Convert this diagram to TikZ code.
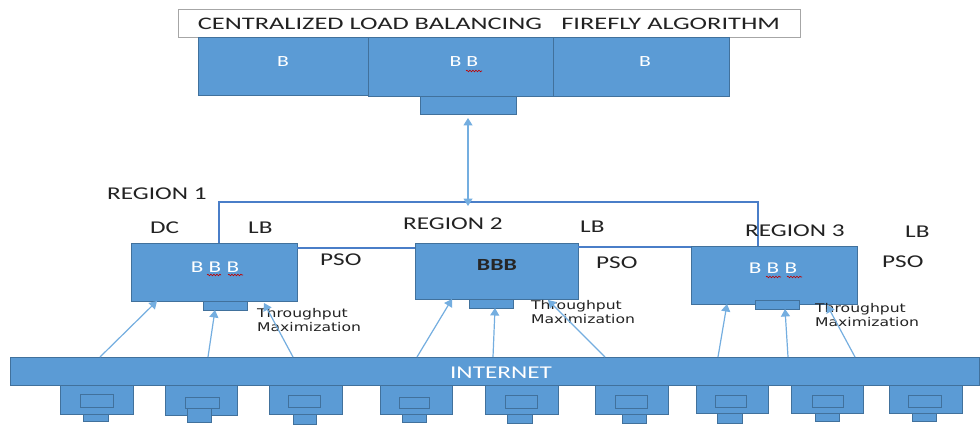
\documentclass[tikz,border=0pt]{standalone}
\usepackage{fontspec}
\setmainfont{Carlito}
\newfontfamily\lblfont[FakeStretch=1.4]{Carlito}
\newfontfamily\ttlfont[FakeStretch=1.5]{Carlito}
\newfontfamily\smfont[FakeStretch=1.3]{DejaVu Sans}
\usetikzlibrary{arrows.meta,decorations.pathmorphing,calc}
\definecolor{bfill}{HTML}{5B9BD5}
\definecolor{bline}{HTML}{41719C}
\definecolor{conn}{HTML}{4A7EC8}
\definecolor{arr}{HTML}{74AEE0}
\definecolor{txt}{HTML}{222222}
\tikzset{
 blk/.style={draw=bline, fill=bfill, line width=1pt, inner sep=0pt, outer sep=0pt},
 inr/.style={draw=bline, line width=0.8pt, inner sep=0pt, outer sep=0pt},
 lbl/.style={font=\lblfont\fontsize{18}{18}\selectfont, text=txt, inner sep=0pt, anchor=west},
 small/.style={font=\smfont\fontsize{12}{14}\selectfont, text=txt, inner sep=0pt, anchor=north west, align=left},
 wtxt/.style={font=\lblfont\fontsize{16.5}{16.5}\selectfont, text=white, inner sep=0pt},
 upar/.style={draw=arr, line width=1.2pt, -{Triangle[width=9pt,length=7.5pt]}},
 link/.style={draw=conn, line width=1.6pt},
 squig/.style={draw=red!75!black, line width=0.6pt, decorate, decoration={snake, amplitude=0.8pt, segment length=3pt}},
}
\newcommand{\bx}[6]{\node[#6, minimum width={(#4-#2)*1pt}, minimum height={(#5-#3)*1pt}] (#1) at ({(#2+#4)/2},{(#3+#5)/2}) {};}
\begin{document}
\begin{tikzpicture}[x=1pt,y=-1pt]
\useasboundingbox[fill=white] (0,0) rectangle (980,425);
% title
\node[draw=gray!70, line width=1pt, fill=white, minimum width=622pt, minimum height=28pt, inner sep=0pt,
  font=\ttlfont\fontsize{17.6}{17.6}\selectfont, text=txt] (title) at (489,24)
  {CENTRALIZED LOAD BALANCING\hspace{1.1em}FIREFLY ALGORITHM};
% central boxes
\bx{cl}{198}{38}{368}{96}{blk}
\bx{cm}{368}{38}{553}{97}{blk}
\bx{cr}{553}{38}{729}{97}{blk}
\bx{cs}{420}{97}{516}{115}{blk}
\node[wtxt, font=\lblfont\fontsize{15.5}{15.5}\selectfont] (clt) at (283,62) {B};
\node[wtxt, font=\lblfont\fontsize{15.5}{15.5}\selectfont] (cmt) at (464,62) {B B};
\node[wtxt, font=\lblfont\fontsize{15.5}{15.5}\selectfont] (crt) at (645,62) {B};
\draw[squig] (466,71) -- (482,71);
% regions
\bx{r1}{131}{243}{297}{301}{blk}
\bx{r1s}{203}{301}{247}{310}{blk}
\bx{r2}{415}{243}{578}{299}{blk}
\bx{r2s}{469}{299}{513}{308}{blk}
\bx{r3}{691}{246}{857}{304}{blk}
\bx{r3s}{755}{300}{799}{309}{blk}
\node[wtxt] (r1t) at (215,267) {B B B};
\node[inner sep=0pt, font=\lblfont\fontsize{17}{17}\selectfont\bfseries, text=black!85] (r2t) at (497,265) {BBB};
\node[wtxt] (r3t) at (773,268) {B B B};
\draw[squig] (207,275) -- (221,275);
\draw[squig] (228,275) -- (243,275);
\draw[squig] (766,277) -- (781,277);
\draw[squig] (787,277) -- (802,277);
% links
\coordinate (hub) at (cs.south |- 0,202);
\coordinate (t1) at (219,202);
\coordinate (t3) at (758,202);
\draw[link] (r1.north -| t1) -- (t1) -- (t3) -- (r3.north -| t3);
\draw[link] (r1.east |- 0,248) -- (r2.west |- 0,248);
\draw[link] (r2.east |- 0,247) -- (r3.west |- 0,247);
\draw[draw=arr, line width=1.2pt, {Triangle[width=9pt,length=7.5pt]}-{Triangle[width=9pt,length=7.5pt]}] ($(cs.south)+(0,3)$) -- ($(hub)+(0,4)$);
% labels
\node[lbl] (reg1) at (107,194) {REGION 1};
\node[lbl] (dc) at (150,228) {DC};
\node[lbl] (lb1) at (248,228) {LB};
\node[lbl] (pso1) at (320,260) {PSO};
\node[lbl] (reg2) at (403,224) {REGION 2};
\node[lbl] (lb2) at (580,227) {LB};
\node[lbl] (pso2) at (596,263) {PSO};
\node[lbl] (reg3) at (745,231) {REGION 3};
\node[lbl] (lb3) at (905,232) {LB};
\node[lbl] (pso3) at (882,262) {PSO};
\node[small] (tm1) at (257,308) {Throughput\\Maximization};
\node[small] (tm2) at (531,300) {Throughput\\Maximization};
\node[small] (tm3) at (815,303) {Throughput\\Maximization};
% internet
\bx{net}{10}{357}{979}{385}{blk}
\node[wtxt, font=\lblfont\fontsize{18}{18}\selectfont] (nett) at (501,373) {INTERNET};
% devices
\bx{d1}{60}{385}{133}{414}{blk}   \bx{d1i}{80}{394}{113}{407}{inr}  \bx{d1t}{83}{414}{108}{421}{blk}
\bx{d2}{165}{385}{237}{415}{blk}  \bx{d2i}{185}{397}{219}{408}{inr} \bx{d2t}{187}{408}{211}{422}{blk}
\bx{d3}{269}{385}{342}{414}{blk}  \bx{d3i}{288}{395}{320}{407}{inr} \bx{d3t}{293}{414}{316}{424}{blk}
\bx{d4}{380}{385}{452}{414}{blk}  \bx{d4i}{399}{397}{429}{408}{inr} \bx{d4t}{402}{414}{426}{422}{blk}
\bx{d5}{485}{385}{558}{414}{blk}  \bx{d5i}{505}{395}{537}{408}{inr} \bx{d5t}{507}{414}{532}{423}{blk}
\bx{d6}{595}{385}{668}{414}{blk}  \bx{d6i}{615}{395}{647}{408}{inr} \bx{d6t}{622}{414}{646}{423}{blk}
\bx{d7}{696}{385}{768}{413}{blk}  \bx{d7i}{715}{395}{746}{407}{inr} \bx{d7t}{717}{413}{742}{423}{blk}
\bx{d8}{791}{385}{863}{413}{blk}  \bx{d8i}{812}{395}{843}{407}{inr} \bx{d8t}{815}{413}{839}{421}{blk}
\bx{d9}{889}{385}{962}{413}{blk}  \bx{d9i}{908}{395}{941}{407}{inr} \bx{d9t}{912}{413}{936}{421}{blk}
% arrows from internet
\draw[upar] (net.north -| 100,0) -- (r1.south -| 157,0);
\draw[upar] (net.north -| 208,0) -- (r1s.south -| 215,0);
\draw[upar] (net.north -| 293,0) -- (264,303);
\draw[upar] (net.north -| 417,0) -- (r2.south -| 452,0);
\draw[upar] (net.north -| 493,0) -- (r2s.south -| 495,0);
\draw[upar] (net.north -| 605,0) -- (548,300);
\draw[upar] (net.north -| 718,0) -- (r3.south -| 727,0);
\draw[upar] (net.north -| 788,0) -- (r3s.south -| 785,0);
\draw[upar] (net.north -| 855,0) -- (827,305);
\end{tikzpicture}
\end{document}
